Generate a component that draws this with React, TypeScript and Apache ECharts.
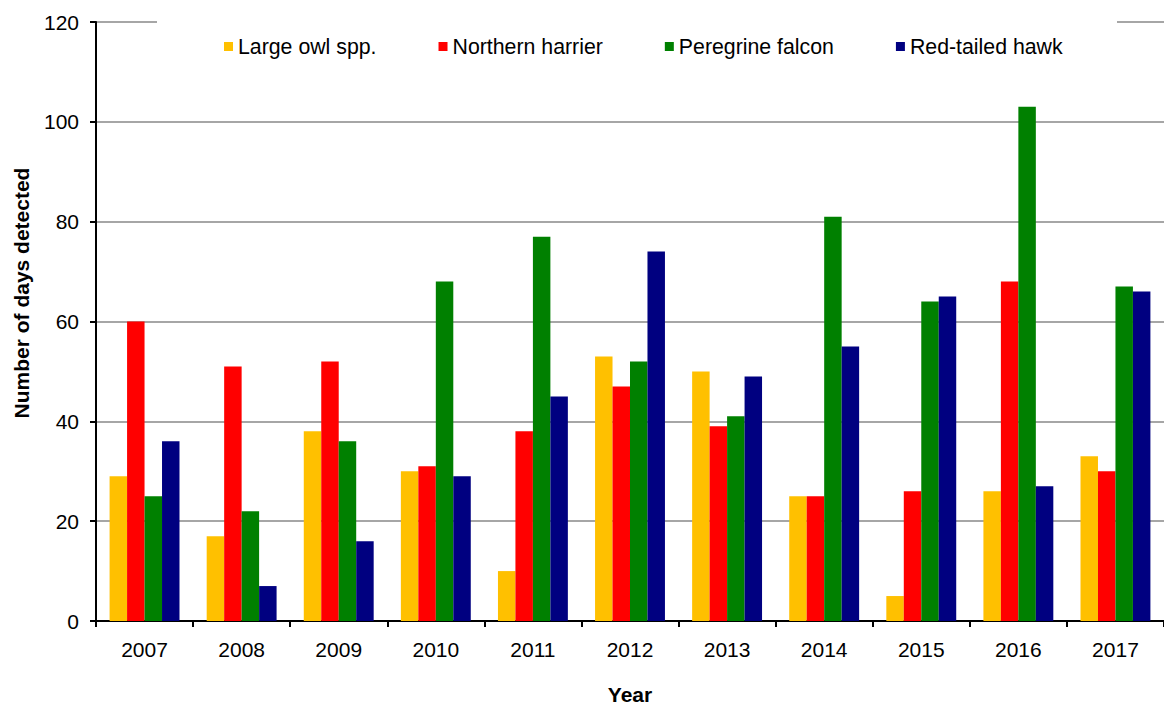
import React, { useEffect, useRef } from "react";
import * as echarts from "echarts";

const years = ["2007", "2008", "2009", "2010", "2011", "2012", "2013", "2014", "2015", "2016", "2017"];
const largeOwl = [29, 17, 38, 30, 10, 53, 50, 25, 5, 26, 33];
const northernHarrier = [60, 51, 52, 31, 38, 47, 39, 25, 26, 68, 30];
const peregrineFalcon = [25, 22, 36, 68, 77, 52, 41, 81, 64, 103, 67];
const redTailedHawk = [36, 7, 16, 29, 45, 74, 49, 55, 65, 27, 66];
const seriesNames = ["Large owl spp.", "Northern harrier", "Peregrine falcon", "Red-tailed hawk"];
const seriesColors = ["#FFC000", "#FF0000", "#008000", "#000080"];
const yTitle = "Number of days detected";
const xTitle = "Year";

const FONT = "Arial, 'Liberation Sans', Helvetica, sans-serif";

export default function App() {
  const ref = useRef<HTMLDivElement>(null);
  useEffect(() => {
    if (!ref.current) return;
    const chart = echarts.init(ref.current, null, { renderer: "svg" });
    const data = [largeOwl, northernHarrier, peregrineFalcon, redTailedHawk];
    chart.setOption({
      animation: false,
      backgroundColor: "#ffffff",
      textStyle: { fontFamily: FONT },
      grid: { left: 96, right: -6, top: 22, bottom: 83, containLabel: false },
      legend: {
        data: seriesNames,
        left: 224,
        top: 36,
        itemWidth: 9,
        itemHeight: 9,
        itemGap: 62,
        icon: "rect",
        textStyle: { fontSize: 21.3, color: "#000", fontFamily: FONT },
        padding: 0,
      },
      graphic: [
        {
          type: "rect",
          shape: { x: 157, y: 12, width: 960, height: 20 },
          style: { fill: "#ffffff" },
          z: 5,
          silent: true,
        },
        {
          type: "text",
          x: 21,
          y: 293,
          rotation: Math.PI / 2,
          style: {
            text: yTitle,
            fontSize: 21,
            fontWeight: "bold",
            fontFamily: FONT,
            fill: "#000",
            align: "center",
            verticalAlign: "middle",
          },
        },
      ],
      xAxis: {
        type: "category",
        data: years,
        name: xTitle,
        nameLocation: "middle",
        nameGap: 63,
        nameTextStyle: { fontSize: 21, fontWeight: "bold", color: "#000", fontFamily: FONT },
        axisLine: { lineStyle: { color: "#000", width: 2 } },
        axisTick: { show: true, alignWithLabel: false, length: 6, lineStyle: { color: "#000", width: 2 } },
        axisLabel: { fontSize: 21, color: "#000", margin: 18, fontFamily: FONT },
        boundaryGap: true,
      },
      yAxis: {
        type: "value",
        min: 0,
        max: 120,
        interval: 20,
        axisLine: { show: true, lineStyle: { color: "#000", width: 2 } },
        axisTick: { show: true, inside: false, length: 6, lineStyle: { color: "#000", width: 2 } },
        axisLabel: { fontSize: 21, color: "#000", margin: 17, fontFamily: FONT },
        splitLine: { show: true, lineStyle: { color: "#A6A6A6", width: 2 } },
      },
      series: seriesNames.map((name, i) => ({
        name,
        type: "bar",
        data: data[i],
        barGap: "0%",
        barCategoryGap: "28%",
        itemStyle: { color: seriesColors[i] },
      })),
    });
    return () => chart.dispose();
  }, []);
  return (
    <div
      ref={ref}
      style={{ position: "fixed", left: 0, top: 0, width: 1164, height: 710 }}
    />
  );
}
